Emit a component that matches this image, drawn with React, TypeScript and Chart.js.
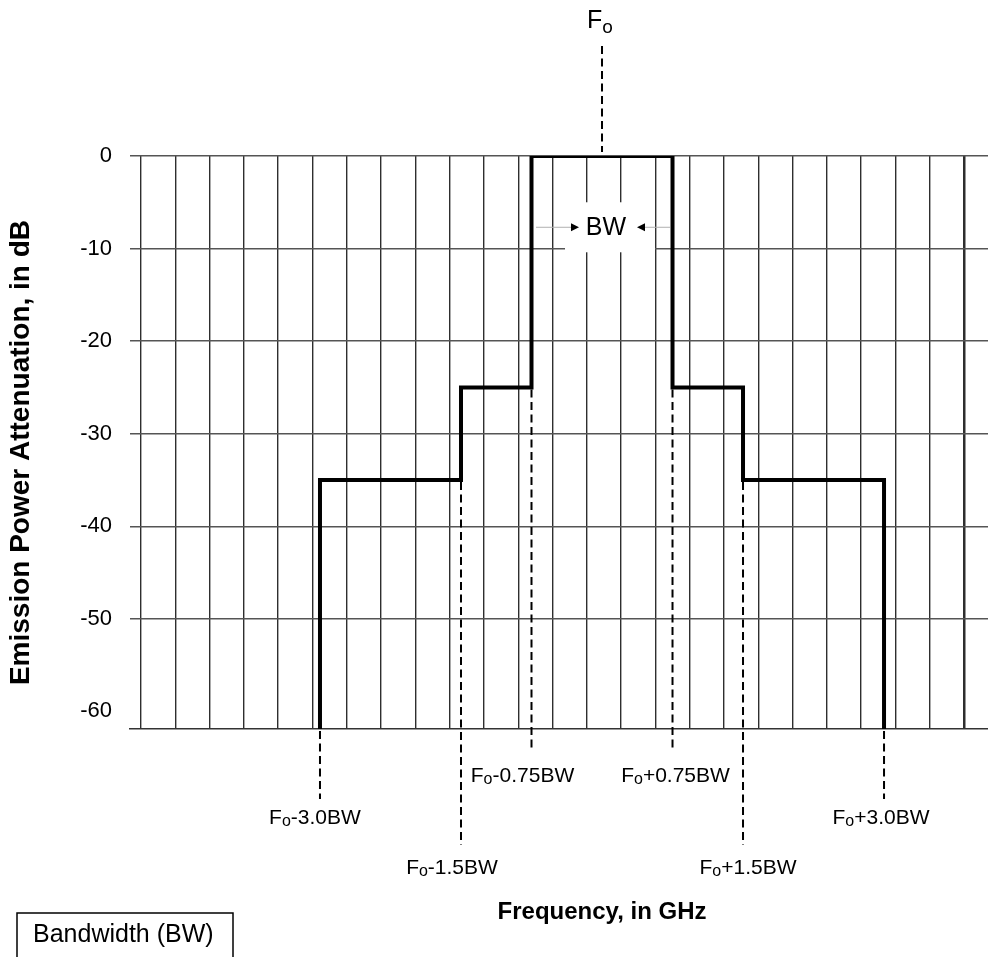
import { useEffect, useRef } from 'react';
import { Chart, registerables } from 'chart.js';

Chart.register(...registerables);

// ---- data (frequency offsets in units of BW from Fo, levels in dB) ----
const stepOffsetsBW = [-3.0, -3.0, -1.5, -1.5, -0.75, -0.75, 0.75, 0.75, 1.5, 1.5, 3.0, 3.0];
const stepLevelsDb = [-61.9, -35, -35, -25, -25, 0, 0, -25, -25, -35, -35, -61.9];
const edgeOffsetsBW = [-3.0, -1.5, -0.75, 0.75, 1.5, 3.0];
const edgeLowerDb = [-61.9, -35, -25, -25, -35, -61.9];
const edgeLabels = ['-3.0BW', '-1.5BW', '-0.75BW', '+0.75BW', '+1.5BW', '+3.0BW'];
const yTickValues = [0, -10, -20, -30, -40, -50, -60];
const hiddenGridDb = -60;
const bwLabelDb = -7.7;
const Y_MIN = -61.9;
const Y_MAX = 0;
const X_MIN = -5.021;
const X_MAX = 4.106;
const GRID_START = -4.904;
const GRID_STEP = 0.3648;
const GRID_COUNT = 25;

const xTitle = 'Frequency, in GHz';
const yTitle = 'Emission Power Attenuation, in dB';
const boxText = 'Bandwidth (BW)';

// ---- layout / style (pixels) ----
const labelDrop = [87, 137, 45, 45, 137, 87];
const dashDrop = [70, 116, 22, 22, 116, 70];
const labelDx = [-5, -9, -9, 3, 5, -3];
const FAMILY = '"Liberation Sans", Arial, Helvetica, sans-serif';

function drawFoLabel(ctx: CanvasRenderingContext2D, cx: number, cy: number, rest: string, size: number, drop: number) {
  const main = `${size}px ${FAMILY}`;
  const subSize = Math.round(size * 0.74);
  const sub = `${subSize}px ${FAMILY}`;
  ctx.font = main;
  const wF = ctx.measureText('F').width;
  const wR = rest ? ctx.measureText(rest).width : 0;
  ctx.font = sub;
  const wO = ctx.measureText('o').width;
  const total = wF + wO + wR;
  let x = cx - total / 2;
  const base = cy + size * 0.36;
  ctx.textAlign = 'left';
  ctx.textBaseline = 'alphabetic';
  ctx.fillStyle = '#000';
  ctx.font = main;
  ctx.fillText('F', x, base);
  x += wF;
  ctx.font = sub;
  ctx.fillText('o', x, base + size * drop);
  x += wO;
  if (rest) {
    ctx.font = main;
    ctx.fillText(rest, x, base);
  }
}

function dashed(ctx: CanvasRenderingContext2D, x: number, y1: number, y2: number) {
  ctx.save();
  ctx.strokeStyle = '#000';
  ctx.lineWidth = 2;
  ctx.setLineDash([8, 4.5]);
  ctx.beginPath();
  ctx.moveTo(x, y1);
  ctx.lineTo(x, y2);
  ctx.stroke();
  ctx.restore();
}

const annotationPlugin = {
  id: 'maskAnnotations',
  afterDatasetsDraw(chart: any) {
    const ctx: CanvasRenderingContext2D = chart.ctx;
    const xs = chart.scales.x;
    const ys = chart.scales.y;
    const area = chart.chartArea;
    const fo = xs.getPixelForValue(0);
    ctx.save();

    // BW marker inside the plot
    const by = ys.getPixelForValue(bwLabelDb);
    ctx.fillStyle = '#fff';
    ctx.fillRect(fo - 37, by - 25, 90, 50);
    ctx.strokeStyle = '#b0b0b0';
    ctx.lineWidth = 1;
    ctx.beginPath();
    ctx.moveTo(fo - 66, by);
    ctx.lineTo(fo - 30, by);
    ctx.moveTo(fo + 43, by);
    ctx.lineTo(fo + 68, by);
    ctx.stroke();
    ctx.fillStyle = '#000';
    ctx.beginPath();
    ctx.moveTo(fo - 23, by);
    ctx.lineTo(fo - 31, by - 4);
    ctx.lineTo(fo - 31, by + 4);
    ctx.closePath();
    ctx.fill();
    ctx.beginPath();
    ctx.moveTo(fo + 35, by);
    ctx.lineTo(fo + 43, by - 4);
    ctx.lineTo(fo + 43, by + 4);
    ctx.closePath();
    ctx.fill();
    ctx.font = `25px ${FAMILY}`;
    ctx.textAlign = 'center';
    ctx.textBaseline = 'middle';
    ctx.fillText('BW', fo + 4, by + 1);

    // Fo marker above the plot
    dashed(ctx, fo, area.top - 110, area.top - 4);
    drawFoLabel(ctx, fo - 2, 19, '', 25, 0.2);

    // edge markers below
    edgeOffsetsBW.forEach((off, i) => {
      const x = xs.getPixelForValue(off);
      const yStart = ys.getPixelForValue(edgeLowerDb[i]);
      dashed(ctx, x, yStart + 2, area.bottom + dashDrop[i]);
      drawFoLabel(ctx, x + labelDx[i], area.bottom + labelDrop[i], edgeLabels[i], 21, 0.13);
    });

    // axis titles
    ctx.fillStyle = '#000';
    ctx.font = `bold 24px ${FAMILY}`;
    ctx.textAlign = 'center';
    ctx.textBaseline = 'middle';
    ctx.fillText(xTitle, fo, 912);
    ctx.save();
    ctx.translate(21, (area.top + area.bottom) / 2 + 10);
    ctx.rotate(-Math.PI / 2);
    ctx.font = `bold 28px ${FAMILY}`;
    ctx.fillText(yTitle, 0, 0);
    ctx.restore();

    // legend-like box
    ctx.strokeStyle = '#000';
    ctx.lineWidth = 1.5;
    ctx.strokeRect(17, 913, 216, 60);
    ctx.font = `25px ${FAMILY}`;
    ctx.textAlign = 'left';
    ctx.textBaseline = 'middle';
    ctx.fillText(boxText, 33, 935);

    ctx.restore();
  },
};

export default function App() {
  const ref = useRef<HTMLCanvasElement | null>(null);
  useEffect(() => {
    if (!ref.current) return;
    const gridValues: number[] = [];
    for (let i = 0; i < GRID_COUNT; i++) gridValues.push(GRID_START + i * GRID_STEP);
    const chart = new Chart(ref.current, {
      type: 'scatter',
      data: {
        datasets: [
          {
            data: stepOffsetsBW.map((x, i) => ({ x, y: stepLevelsDb[i] })),
            showLine: true,
            borderColor: '#000',
            borderWidth: 4,
            pointRadius: 0,
            borderJoinStyle: 'miter',
            fill: false,
          } as any,
        ],
      },
      options: {
        animation: false,
        responsive: true,
        maintainAspectRatio: false,
        events: [],
        layout: { padding: { top: 156, left: 0, right: 0, bottom: 0 } },
        plugins: { legend: { display: false }, tooltip: { enabled: false } },
        scales: {
          x: {
            type: 'linear',
            min: X_MIN,
            max: X_MAX,
            afterBuildTicks: (s: any) => {
              s.ticks = gridValues.map((v) => ({ value: v }));
            },
            afterFit: (s: any) => {
              s.height = 228;
            },
            ticks: { display: false },
            grid: {
              color: '#2e2e2e',
              lineWidth: (c: any) => (c.index === GRID_COUNT - 1 ? 2.5 : 1.4),
              drawTicks: false,
            },
            border: { display: true, color: '#333', width: 1.5 },
          },
          y: {
            type: 'linear',
            min: Y_MIN,
            max: Y_MAX,
            afterBuildTicks: (s: any) => {
              s.ticks = yTickValues.map((v) => ({ value: v }));
            },
            afterFit: (s: any) => {
              s.width = 130;
            },
            ticks: {
              padding: 18,
              color: '#000',
              font: { size: 22, family: FAMILY },
              callback: (v: any) => String(v),
            },
            grid: {
              color: (c: any) => (c.tick && c.tick.value === hiddenGridDb ? 'rgba(0,0,0,0)' : '#555'),
              lineWidth: 1.4,
              drawTicks: false,
            },
            border: { display: false },
          },
        },
      },
      plugins: [annotationPlugin],
    });
    return () => chart.destroy();
  }, []);
  return (
    <div style={{ position: 'absolute', left: 0, top: 0, width: 988, height: 957, background: '#fff' }}>
      <canvas ref={ref} />
    </div>
  );
}
